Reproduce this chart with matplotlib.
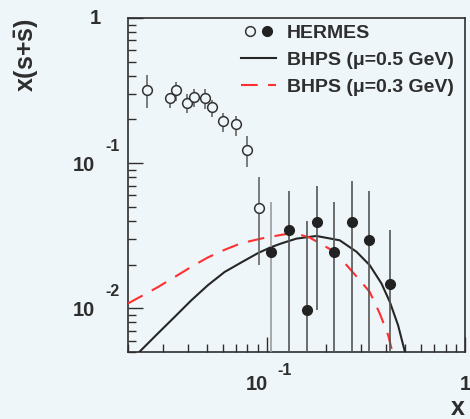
import numpy as np
import matplotlib
matplotlib.use("Agg")
import matplotlib.pyplot as plt
from matplotlib.lines import Line2D
from matplotlib.legend_handler import HandlerTuple
from matplotlib.ticker import NullFormatter, LogLocator

# HERMES, low-x points (open circles): x, value, lower/upper end of error bar
open_x = [0.0249, 0.0324, 0.035, 0.0396, 0.043, 0.0488, 0.0532, 0.060, 0.0697, 0.0799, 0.0912]
open_y = [0.319, 0.279, 0.319, 0.258, 0.286, 0.279, 0.245, 0.194, 0.185, 0.124, 0.0492]
open_lo = [0.238, 0.238, 0.27, 0.22, 0.245, 0.235, 0.209, 0.164, 0.153, 0.0934, 0.0198]
open_hi = [0.404, 0.302, 0.36, 0.30, 0.322, 0.322, 0.272, 0.222, 0.211, 0.153, 0.0797]

# HERMES, high-x points (filled circles)
fill_x = [0.1047, 0.1296, 0.159, 0.1795, 0.2188, 0.269, 0.3286, 0.42]
fill_y = [0.0245, 0.0345, 0.0097, 0.0394, 0.0245, 0.0394, 0.0294, 0.0146]
fill_lo = [0.001, 0.001, 0.001, 0.0097, 0.001, 0.001, 0.001, 0.001]
fill_hi = [0.054, 0.0644, 0.0398, 0.0694, 0.054, 0.0751, 0.0644, 0.0349]

# BHPS intrinsic strangeness, mu = 0.5 GeV
bhps05_x = [0.0228, 0.02825, 0.0343, 0.0417, 0.0505, 0.0614, 0.0745, 0.0904, 0.1047,
            0.1187, 0.1413, 0.1782, 0.2337, 0.284, 0.331, 0.3795, 0.418, 0.460, 0.498]
bhps05_y = [0.005, 0.0067, 0.0087, 0.01135, 0.01441, 0.0178, 0.0207, 0.0240, 0.0263,
            0.0280, 0.0302, 0.0315, 0.0294, 0.0245, 0.0198, 0.0148, 0.01105, 0.00763, 0.005]

# BHPS intrinsic strangeness, mu = 0.3 GeV
bhps03_x = [0.02, 0.0233, 0.0283, 0.0343, 0.0417, 0.0505, 0.0614, 0.0745, 0.0977, 0.1307,
            0.1468, 0.165, 0.1924, 0.2205, 0.2574, 0.295, 0.331, 0.372, 0.410, 0.4305]
bhps03_y = [0.0108, 0.0121, 0.0140, 0.0164, 0.0193, 0.0224, 0.0253, 0.0281, 0.0306, 0.0328,
            0.0322, 0.0307, 0.0272, 0.0245, 0.0193, 0.0156, 0.01295, 0.00919, 0.00651, 0.005]

xtick_vals = [0.1, 1.0]
xtick_base = ['10', '1']
xtick_exp = ['-1', '']
ytick_vals = [1.0, 0.1, 0.01]
ytick_base = ['1', '10', '10']
ytick_exp = ['', '-1', '-2']

BG = '#eff6f9'
INK = '#2e2e2e'
FONT = 'Liberation Sans'

plt.rcParams['font.family'] = FONT
plt.rcParams['font.weight'] = 'bold'
plt.rcParams['mathtext.fontset'] = 'custom'
plt.rcParams['mathtext.rm'] = FONT + ':bold'
plt.rcParams['mathtext.it'] = FONT + ':bold'
plt.rcParams['mathtext.bf'] = FONT + ':bold'

fig = plt.figure(figsize=(4.7, 4.19), dpi=100, facecolor=BG)
ax = fig.add_axes([128 / 470, 67 / 419, 337 / 470, 334 / 419], facecolor=BG)
ax.set_xscale('log')
ax.set_yscale('log')
ax.set_xlim(0.02, 1.0)
ax.set_ylim(0.005, 1.0)

for s in ax.spines.values():
    s.set_color(INK)
    s.set_linewidth(1.2)

ax.xaxis.set_major_locator(LogLocator(base=10, numticks=10))
ax.yaxis.set_major_locator(LogLocator(base=10, numticks=10))
ax.xaxis.set_minor_locator(LogLocator(base=10, subs=np.arange(2, 10), numticks=10))
ax.yaxis.set_minor_locator(LogLocator(base=10, subs=np.arange(2, 10), numticks=10))
for axis in (ax.xaxis, ax.yaxis):
    axis.set_major_formatter(NullFormatter())
    axis.set_minor_formatter(NullFormatter())
ax.tick_params(which='both', direction='in', top=False, right=False, color=INK, width=1.0)
ax.tick_params(which='major', length=10.5)
ax.tick_params(which='minor', length=5.5)

# curves
ax.plot(bhps05_x, bhps05_y, color='#262626', lw=1.5, zorder=3)
ax.plot(bhps03_x, bhps03_y, color='#ff3030', lw=1.5, dashes=(8, 5), zorder=3)

# error bars, the first high-x one is drawn lighter
bar_cols = ['#9a9a9a'] + ['#555555'] * (len(fill_x) - 1)
ax.vlines(open_x, open_lo, open_hi, colors='#666666', lw=1.2, zorder=4)
ax.vlines(fill_x, fill_lo, fill_hi, colors=bar_cols, lw=1.2, zorder=4)

ax.plot(open_x, open_y, 'o', ms=7, mfc=BG, mec='#333333', mew=1.1, zorder=5)
ax.plot(fill_x, fill_y, 'o', ms=7, mfc='#222222', mec='#222222', zorder=5)

# tick labels in "10 ^-n" style
lab_kw = dict(color=INK, fontweight='bold', annotation_clip=False,
              textcoords='offset pixels', va='center')
xtr = ax.get_xaxis_transform()
for v, b, e in zip(xtick_vals, xtick_base, xtick_exp):
    if e:
        ax.annotate(b, (v, 0), xycoords=xtr, xytext=(-9.5, -32), ha='center', fontsize=14.5, **lab_kw)
        ax.annotate(e, (v, 0), xycoords=xtr, xytext=(18, -18), ha='center', fontsize=11.5, **lab_kw)
    else:
        ax.annotate(b, (v, 0), xycoords=xtr, xytext=(0, -32), ha='center', fontsize=14.5, **lab_kw)

ytr = ax.get_yaxis_transform()
for v, b, e in zip(ytick_vals, ytick_base, ytick_exp):
    if e:
        ax.annotate(b, (0, v), xycoords=ytr, xytext=(-33, -2.5), ha='right', fontsize=14.5, **lab_kw)
        ax.annotate(e, (0, v), xycoords=ytr, xytext=(-8, 17), ha='right', fontsize=11.5, **lab_kw)
    else:
        ax.annotate(b, (0, v), xycoords=ytr, xytext=(-27, -0.5), ha='right', fontsize=14.5, **lab_kw)

# axis titles
fig.text(465 / 470, 1 - 408 / 419, 'x', ha='right', va='center', fontsize=18,
         color=INK, fontweight='bold')
fig.text(27 / 470, 1 - 18 / 419, r'x(s+$\bar{\mathrm{s}}$)', ha='center', va='top',
         rotation=90, fontsize=18, color=INK, fontweight='bold')

# legend
h_open = Line2D([], [], ls='none', marker='o', ms=7, mfc=BG, mec='#333333', mew=1.1)
h_fill = Line2D([], [], ls='none', marker='o', ms=7, mfc='#222222', mec='#222222')
h_05 = Line2D([], [], color='#262626', lw=1.5)
h_03 = Line2D([], [], color='#ff3030', lw=1.5, dashes=(8, 5))
leg = ax.legend([(h_open, h_fill), h_05, h_03],
                ['HERMES', 'BHPS (\u03bc=0.5 GeV)', 'BHPS (\u03bc=0.3 GeV)'],
                handler_map={tuple: HandlerTuple(ndivide=None, pad=0)},
                loc='upper left', bbox_to_anchor=(241 / 470, 1 - 24 / 419),
                bbox_transform=fig.transFigure, frameon=False, fontsize=14,
                handlelength=1.8, handletextpad=0.55, labelspacing=0.5,
                borderpad=0, borderaxespad=0)
for t in leg.get_texts():
    t.set_color(INK)

fig.savefig('out.png', dpi=100, facecolor=BG)
